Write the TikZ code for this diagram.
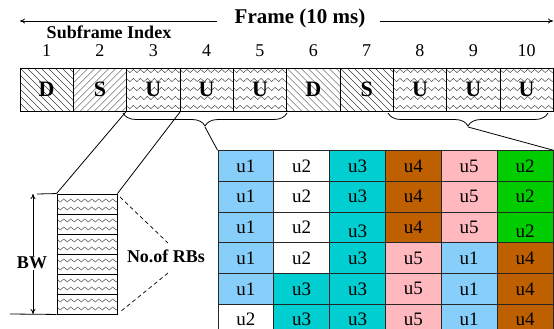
\documentclass[tikz,border=0pt]{standalone}
\usepackage{fontspec}
\setmainfont{Liberation Serif}
\usetikzlibrary{decorations.pathmorphing,decorations.pathreplacing,arrows.meta}
\definecolor{cb}{RGB}{135,206,250}
\definecolor{ct}{RGB}{0,206,209}
\definecolor{cbr}{RGB}{191,96,0}
\definecolor{cp}{RGB}{255,184,190}
\definecolor{cg}{RGB}{0,204,0}
\definecolor{cw}{RGB}{255,255,255}
\tikzset{
  fbox/.style={draw,line width=0.9pt,minimum width=53.33pt,minimum height=43pt,inner sep=0pt,font=\fontsize{22}{22}\selectfont\bfseries},
  idx/.style={inner sep=0pt,font=\fontsize{18}{18}\selectfont},
  rb/.style={draw,line width=0.9pt,minimum width=60pt,minimum height=20pt,inner sep=0pt},
  cell/.style={draw=black!85,line width=0.9pt,minimum width=55.83pt,minimum height=30.7pt,inner sep=0pt,font=\fontsize{19}{19}\selectfont},
  hatch/.style={line width=0.45pt,black!75},
  zz/.style={line width=0.45pt,black!75,decorate,decoration={zigzag,segment length=7pt,amplitude=1.6pt}},
  lbl/.style={inner sep=0pt,font=\fontsize{18}{18}\selectfont\bfseries},
  conn/.style={line width=0.8pt},
  brc/.style={line width=0.8pt,decorate,decoration={brace,amplitude=13pt,mirror}},
  arr/.style={line width=0.8pt,-{To[length=5pt,width=5pt]}},
}
\begin{document}
\begin{tikzpicture}[x=1pt,y=-1pt]
\useasboundingbox (0,0) rectangle (554,329);
\clip (0,0) rectangle (554,329);

% hatching and zigzags for subframe boxes
\foreach \i/\t in {1/b,2/f,3/z,4/z,5/z,6/b,7/b,8/z,9/z,10/z}{
  \pgfmathsetmacro{\xl}{20+53.33*(\i-1)}
  \pgfmathsetmacro{\xr}{\xl+53.33}
  \begin{scope}
    \clip (\xl,68) rectangle (\xr,111);
    \if\t b
      \foreach \k in {-49,-42,...,60}{\draw[hatch] (\xl+\k,68) -- (\xl+\k+43,111);}
    \fi
    \if\t f
      \foreach \k in {-49,-42,...,60}{\draw[hatch] (\xl+\k,111) -- (\xl+\k+43,68);}
    \fi
    \if\t z
      \foreach \yy in {71,80,89,98,107}{\draw[zz] (\xl-2,\yy) -- (\xr+5,\yy);}
    \fi
  \end{scope}
}
\foreach \i/\l in {1/D,2/S,3/U,4/U,5/U,6/D,7/S,8/U,9/U,10/U}{
  \node[fbox] (f\i) at ({20+53.33*(\i-0.5)},89.5) {\l};
  \node[idx] (n\i) at ({20+53.33*(\i-0.5)},51) {\i};
}

% titles
\node[inner sep=0pt,font=\fontsize{21}{21}\selectfont\bfseries] (frame) at (300,18) {Frame (10 ms)};
\node[lbl] (sub) at (109,32) {Subframe Index};
\coordinate (al) at (217,21);
\coordinate (ale) at (20,21);
\coordinate (ar) at (380,21);
\coordinate (are) at (553,21);
\draw[arr] (al) -- (ale);
\draw[arr] (ar) -- (are);

% RB stack
\foreach \j in {1,...,6}{
  \pgfmathsetmacro{\yt}{194+20*(\j-1)}
  \begin{scope}
    \clip (57,\yt) rectangle (117,\yt+20);
    \draw[zz] (55,\yt+6.5) -- (122,\yt+6.5);
    \draw[zz] (55,\yt+14.5) -- (122,\yt+14.5);
  \end{scope}
  \node[rb] (r\j) at (87,\yt+10) {};
}
\draw[conn] (f3.south west) -- (r1.north west);
\draw[conn] (f3.south east) -- (r1.north east);

% BW
\coordinate (bwt) at (33,194);
\coordinate (bwb) at (33,314);
\coordinate (bwl) at (37,194);
\coordinate (bwbl) at (10,314);
\draw[conn] (bwl) -- (r1.north west);
\draw[conn] (bwbl) -- (r6.south west);
\draw[line width=0.8pt,{To[length=5pt,width=5pt]}-{To[length=5pt,width=5pt]}] (bwt) -- (bwb);
\node[lbl,fill=white,inner sep=1pt] (bw) at (32,263) {BW};

% No. of RBs
\node[lbl] (nrb) at (166,256) {No.of RBs};
\coordinate (d1a) at (120,197);
\coordinate (d1b) at (168,243);
\coordinate (d2a) at (168,273);
\coordinate (d2b) at (120,312);
\draw[line width=0.7pt,dash pattern=on 4pt off 3pt] (d1a) -- (d1b);
\draw[line width=0.7pt,dash pattern=on 4pt off 3pt] (d2a) -- (d2b);

% grid
\foreach \r/\row in {1/{cb/u1,cw/u2,ct/u3,cbr/u4,cp/u5,cg/u2},
                     2/{cb/u1,cw/u2,ct/u3,cbr/u4,cp/u5,cg/u2},
                     3/{cb/u1,cw/u2,ct/u3,cbr/u4,cp/u5,cg/u2},
                     4/{cb/u1,cw/u2,ct/u3,cp/u5,cb/u1,cbr/u4},
                     5/{cb/u1,ct/u3,ct/u3,cp/u5,cb/u1,cbr/u4},
                     6/{cw/u2,ct/u3,ct/u3,cp/u5,cb/u1,cbr/u4}}{
  \foreach \col/\txt [count=\c] in \row {
    \node[cell,fill=\col] (c-\r-\c) at ({218+55.83*(\c-0.5)},{150.7+30.7*(\r-0.5)}) {};
  }
}
\foreach \r/\row in {1/{u1,u2,u3,u4,u5,u2},2/{u1,u2,u3,u4,u5,u2},3/{u1,u2,u3,u4,u5,u2},
                     4/{u1,u2,u3,u5,u1,u4},5/{u1,u3,u3,u5,u1,u4},6/{u2,u3,u3,u5,u1,u4}}{
  \foreach \txt [count=\c] in \row {
    \pgfmathsetmacro{\dy}{(\r==3 && (\c==3 || \c==6)) ? 4 : 0}
    \node[inner sep=0pt,font=\fontsize{19}{19}\selectfont] at ([yshift=-\dy pt]c-\r-\c.center) {\txt};
  }
}

% braces
\coordinate (b1a) at (123,113);
\coordinate (b1b) at (287,113);
\coordinate (b1t) at (205,127);
\coordinate (b2a) at (388,113);
\coordinate (b2b) at (548,113);
\coordinate (b2t) at (468,127);
\draw[brc] (b1a) -- (b1b);
\draw[brc] (b2a) -- (b2b);
\draw[conn] (b1t) -- (c-1-1.north west);
\draw[conn] (b2t) -- (c-1-6.north east);
\end{tikzpicture}
\end{document}
